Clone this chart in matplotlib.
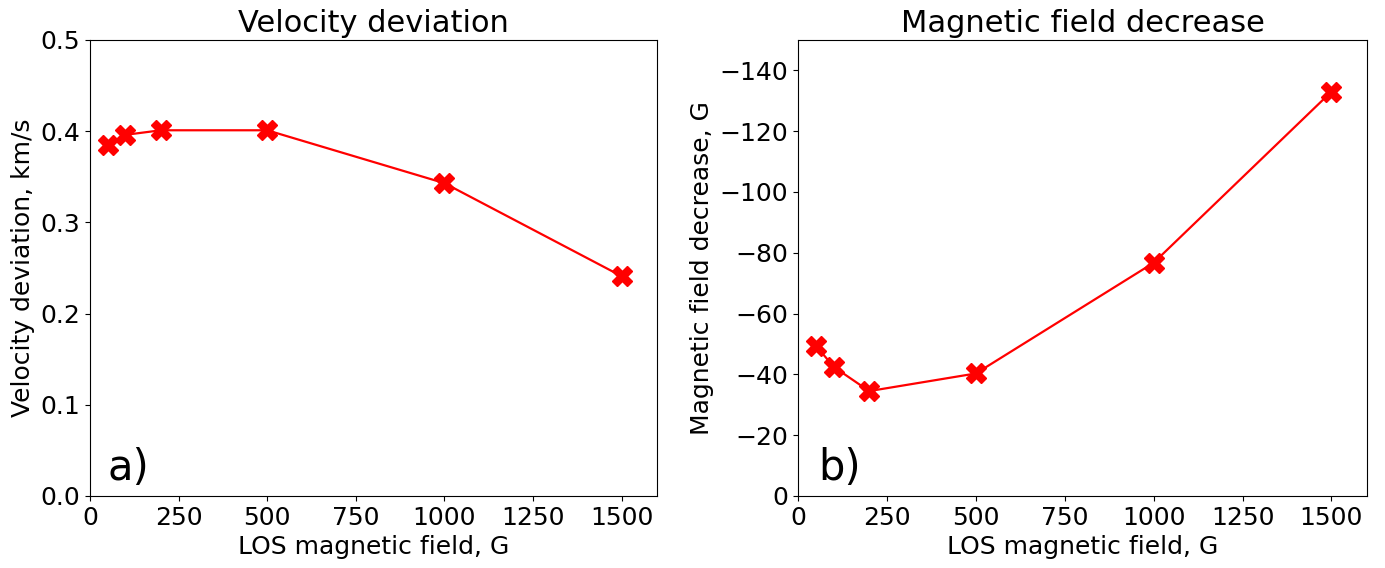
import numpy as np
import matplotlib
matplotlib.use('Agg')
import matplotlib.pyplot as plt

b_los = [50, 100, 200, 500, 1000, 1500]
vel_dev = [0.385, 0.396, 0.401, 0.401, 0.343, 0.241]
b_dec = [-49.5, -42.5, -34.5, -40.3, -76.7, -133.0]

fig = plt.figure(figsize=(13.85, 5.68), dpi=100)
ax1 = fig.add_axes([0.065, 0.1268, 0.4094, 0.8028])
ax2 = fig.add_axes([0.5762, 0.1268, 0.4108, 0.8028])

ax1.plot(b_los, vel_dev, 'r-', marker='X', markersize=14, lw=1.6)
ax1.set_xlim(0, 1600)
ax1.set_ylim(0, 0.5)
ax1.set_xticks([0, 250, 500, 750, 1000, 1250, 1500])
ax1.set_title('Velocity deviation', fontsize=22)
ax1.set_xlabel('LOS magnetic field, G', fontsize=18)
ax1.set_ylabel('Velocity deviation, km/s', fontsize=18)
ax1.text(0.03, 0.035, 'a)', transform=ax1.transAxes, fontsize=30)

ax2.plot(b_los, b_dec, 'r-', marker='X', markersize=14, lw=1.6)
ax2.set_xlim(0, 1600)
ax2.set_ylim(0, -150)
ax2.set_xticks([0, 250, 500, 750, 1000, 1250, 1500])
ax2.set_yticks([0, -20, -40, -60, -80, -100, -120, -140])
ax2.set_title('Magnetic field decrease', fontsize=22)
ax2.set_xlabel('LOS magnetic field, G', fontsize=18)
ax2.set_ylabel('Magnetic field decrease, G', fontsize=18)
ax2.text(0.035, 0.035, 'b)', transform=ax2.transAxes, fontsize=30)

for ax in (ax1, ax2):
    ax.tick_params(labelsize=18)

plt.savefig('out.png')
